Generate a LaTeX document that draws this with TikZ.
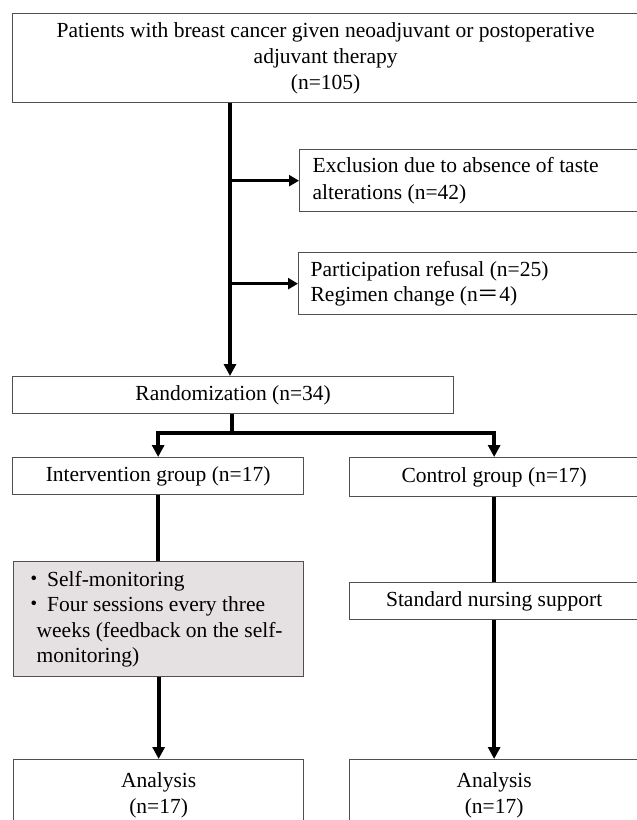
\documentclass[tikz,border=0pt]{standalone}
\usepackage{fontspec}
\setmainfont{Liberation Serif}
\newfontfamily\cjk{Noto Sans CJK JP}
\usetikzlibrary{arrows.meta}
\definecolor{boxgray}{HTML}{505050}
\definecolor{fillgray}{HTML}{E5E1E3}
\begin{document}
\begin{tikzpicture}[x=1pt,y=-1pt,
  box/.style={draw=boxgray, line width=1.3pt, fill=white, inner sep=0pt,
    font=\fontsize{21.5}{25.5}\selectfont, anchor=north west},
  conn/.style={line width=3.8pt, line join=miter},
  arr/.style={conn, -{Triangle[width=12pt,length=12pt]}},
  arrs/.style={line width=3.2pt, -{Triangle[width=11pt,length=10pt]}}
]
\useasboundingbox (0,0) rectangle (637,820);
\clip (0,0) rectangle (637,820);

\node[box, minimum width=626pt, minimum height=89pt, align=center] (top) at (12,13)
  {Patients with breast cancer given neoadjuvant or postoperative\\[0.5pt]adjuvant therapy\\[0.5pt](n=105)};
\node[box, minimum width=339pt, minimum height=62pt, text width=313pt, inner xsep=13pt, align=flush left] (ex1) at (299,149)
  {Exclusion due to absence of taste\\[1pt]alterations (n=42)};
\node[box, minimum width=340pt, minimum height=62pt, text width=316pt, inner xsep=12pt, align=flush left] (ex2) at (298,252)
  {Participation refusal (n=25)\\Regimen change (n{\cjk ＝}4)};
\node[box, minimum width=441pt, minimum height=37pt] (rand) at (12,376) {Randomization (n=34)};
\node[box, minimum width=291pt, minimum height=37pt] (int) at (12,457) {Intervention group (n=17)};
\node[box, minimum width=289pt, minimum height=39pt] (ctl) at (349,457) {Control group (n=17)};
\node[box, fill=fillgray, minimum width=290pt, minimum height=115pt, text width=270pt, inner xsep=10pt, align=flush left] (grey) at (13,561)
  {{\cjk ・}\hspace{2pt}Self-monitoring\\{\cjk ・}\hspace{2pt}Four sessions every three\\\hspace*{13pt}weeks (feedback on the self-\\\hspace*{13pt}monitoring)};
\node[box, minimum width=289pt, minimum height=37pt] (std) at (349,582) {Standard nursing support};
\node[box, minimum width=290pt, minimum height=71pt, align=center] (anl) at (13,759) {Analysis\\(n=17)};
\node[box, minimum width=289pt, minimum height=71pt, align=center] (anr) at (349,759) {Analysis\\(n=17)};

\coordinate (mx) at (230,0);
\coordinate (br) at (232,433);

\draw[arr] (top.south -| mx) -- (rand.north -| mx);
\draw[arrs] (mx |- ex1.west) -- (ex1.west);
\draw[arrs] (mx |- ex2.west) -- (ex2.west);
\draw[conn] (rand.south -| br) -- (br);
\draw[arr] (br) -| (int.north);
\draw[arr] (br) -| (ctl.north);
\draw[conn] (int.south) -- (int.south |- grey.north);
\draw[arr] (grey.south) -- (grey.south |- anl.north);
\draw[conn] (ctl.south) -- (std.north);
\draw[arr] (std.south) -- (anr.north);
\end{tikzpicture}
\end{document}
